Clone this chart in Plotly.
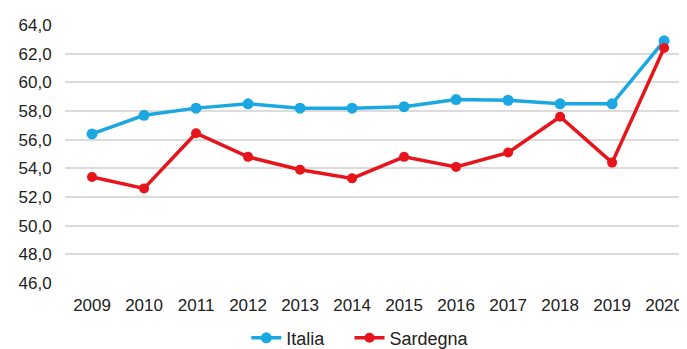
import plotly.graph_objects as go

anni = [2009, 2010, 2011, 2012, 2013, 2014, 2015, 2016, 2017, 2018, 2019, 2020]
italia = [56.4, 57.7, 58.2, 58.5, 58.2, 58.2, 58.3, 58.8, 58.75, 58.5, 58.5, 62.9]
sardegna = [53.4, 52.6, 56.45, 54.8, 53.9, 53.3, 54.8, 54.1, 55.1, 57.6, 54.4, 62.4]
y_ticks = [46, 48, 50, 52, 54, 56, 58, 60, 62, 64]

fig = go.Figure()
fig.add_trace(go.Scatter(x=anni, y=italia, name="Italia", mode="lines+markers",
                         line=dict(color="#1ba8e2", width=3.5),
                         marker=dict(color="#1ba8e2", size=11), legend="legend"))
fig.add_trace(go.Scatter(x=anni, y=sardegna, name="Sardegna", mode="lines+markers",
                         line=dict(color="#e8141c", width=3.5),
                         marker=dict(color="#e8141c", size=10), legend="legend2"))

leg_common = dict(orientation="h", xref="container", xanchor="left",
                  y=0.032, yref="container", yanchor="middle",
                  font=dict(size=18), bgcolor="rgba(0,0,0,0)")

# page body has an 8px default margin; figure sized to fill the remaining window
fig.update_layout(
    width=679, height=341,
    margin=dict(l=57, r=0, t=17, b=66, autoexpand=False),
    paper_bgcolor="white", plot_bgcolor="white",
    separators=",.",
    font=dict(family="Liberation Sans, Arial, sans-serif", size=17, color="#222222"),
    xaxis=dict(range=[2008.48, 2020.44], tickmode="array", tickvals=anni,
               ticktext=[str(a) for a in anni], showgrid=False, zeroline=False,
               showline=False, ticks="outside", ticklen=7, tickcolor="rgba(0,0,0,0)",
               tickfont=dict(size=17), automargin=False),
    yaxis=dict(range=[46, 64], tickmode="array", tickvals=y_ticks, tickformat=".1f",
               showgrid=True, gridcolor="#dcdcdc", gridwidth=1.5, zeroline=False,
               showline=False, ticks="outside", ticklen=9, tickcolor="rgba(0,0,0,0)",
               tickfont=dict(size=17), automargin=False),
    legend=dict(x=0.351, **leg_common),
    legend2=dict(x=0.503, **leg_common),
    showlegend=True,
)

fig.write_html("out.html")
